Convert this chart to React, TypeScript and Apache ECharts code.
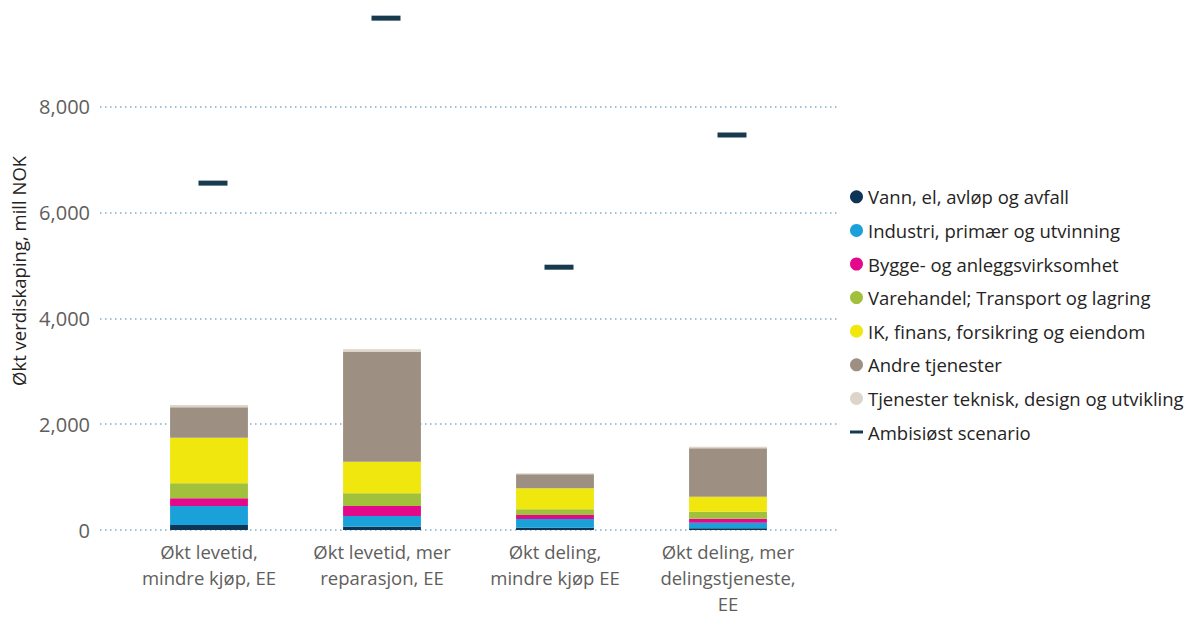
import React, { useEffect, useRef } from "react";
import * as echarts from "echarts";

const categories = [
  "Økt levetid,\nmindre kjøp, EE",
  "Økt levetid, mer\nreparasjon, EE",
  "Økt deling,\nmindre kjøp EE",
  "Økt deling, mer\ndelingstjeneste,\nEE",
];
const vann = [95, 63, 44, 32];
const industri = [360, 202, 164, 106];
const bygge = [145, 189, 76, 76];
const varehandel = [285, 240, 108, 132];
const ikFinans = [860, 598, 397, 284];
const andre = [575, 2074, 265, 915];
const tjenester = [45, 51, 19, 30];
const ambisiost = [6560, 9680, 4970, 7470];
const yTicks = [0, 2000, 4000, 6000, 8000];

const stackSeries = [
  { name: "Vann, el, avløp og avfall", data: vann, color: "#0E3456" },
  { name: "Industri, primær og utvinning", data: industri, color: "#1AA1DA" },
  { name: "Bygge- og anleggsvirksomhet", data: bygge, color: "#E3098A" },
  { name: "Varehandel; Transport og lagring", data: varehandel, color: "#A1C03B" },
  { name: "IK, finans, forsikring og eiendom", data: ikFinans, color: "#F0E70E" },
  { name: "Andre tjenester", data: andre, color: "#9D9083" },
  { name: "Tjenester teknisk, design og utvikling", data: tjenester, color: "#DDD4CA" },
];
const markerName = "Ambisiøst scenario";

const FONT = "'Open Sans', 'Noto Sans', sans-serif";
const Y_MAX = 9800;

export default function App() {
  const ref = useRef<HTMLDivElement>(null);
  useEffect(() => {
    if (!ref.current) return;
    const chart = echarts.init(ref.current, undefined, { renderer: "svg" });
    const option: any = {
      animation: false,
      textStyle: { fontFamily: FONT },
      grid: [
        { left: 100, right: 355, top: 11.8, bottom: 91 },
        { left: 122.5, right: 380.5, top: 11.8, bottom: 91 },
      ],
      xAxis: [
        { type: "category", gridIndex: 0, data: categories, show: false },
        {
          type: "category",
          gridIndex: 1,
          data: categories,
          axisLine: { show: false },
          axisTick: { show: false },
          axisLabel: {
            interval: 0,
            margin: 8,
            color: "#605E5C",
            fontSize: 18.5,
            lineHeight: 26,
            fontFamily: FONT,
          },
        },
      ],
      yAxis: [
        {
          type: "value",
          gridIndex: 0,
          min: 0,
          max: Y_MAX,
          interval: 2000,
          name: "Økt verdiskaping, mill NOK",
          nameLocation: "middle",
          nameGap: 71,
          nameTextStyle: { color: "#252423", fontSize: 18.5, fontFamily: FONT },
          axisLine: { show: false },
          axisTick: { show: false },
          axisLabel: {
            margin: 10,
            color: "#605E5C",
            fontSize: 20,
            fontFamily: FONT,
            showMaxLabel: false,
            formatter: (v: number) => (yTicks.includes(v) ? v.toLocaleString("en-US") : ""),
          },
          splitLine: {
            show: true,
            showMaxLine: false,
            lineStyle: { color: "#7FAECB", width: 1.5, type: [1.5, 3.5] },
          },
        },
        {
          type: "value",
          gridIndex: 1,
          min: 0,
          max: Y_MAX,
          interval: 2000,
          show: false,
          splitLine: { show: false },
        },
      ],
      legend: {
        orient: "vertical",
        left: 845,
        top: 178.8,
        itemWidth: 13,
        itemHeight: 13,
        itemGap: 7.6,
        textStyle: { color: "#252423", fontSize: 18.5, lineHeight: 26, fontFamily: FONT },
        data: [
          ...stackSeries.map((s) => ({ name: s.name, icon: "circle" })),
          { name: markerName, icon: "path://M0,0H13V3H0Z" },
        ],
      },
      series: [
        ...stackSeries.map((s) => ({
          name: s.name,
          type: "bar",
          stack: "total",
          xAxisIndex: 1,
          yAxisIndex: 1,
          barWidth: "45%",
          data: s.data,
          itemStyle: { color: s.color },
        })),
        {
          name: markerName,
          type: "scatter",
          xAxisIndex: 1,
          yAxisIndex: 1,
          symbol: "rect",
          symbolSize: [29, 5],
          symbolOffset: [4, 0],
          data: ambisiost,
          itemStyle: { color: "#173A4E", opacity: 1 },
          z: 5,
        },
      ],
    };
    chart.setOption(option);
    return () => chart.dispose();
  }, []);
  return (
    <div
      ref={ref}
      style={{ position: "absolute", left: 0, top: 0, width: 1195, height: 621 }}
    />
  );
}
